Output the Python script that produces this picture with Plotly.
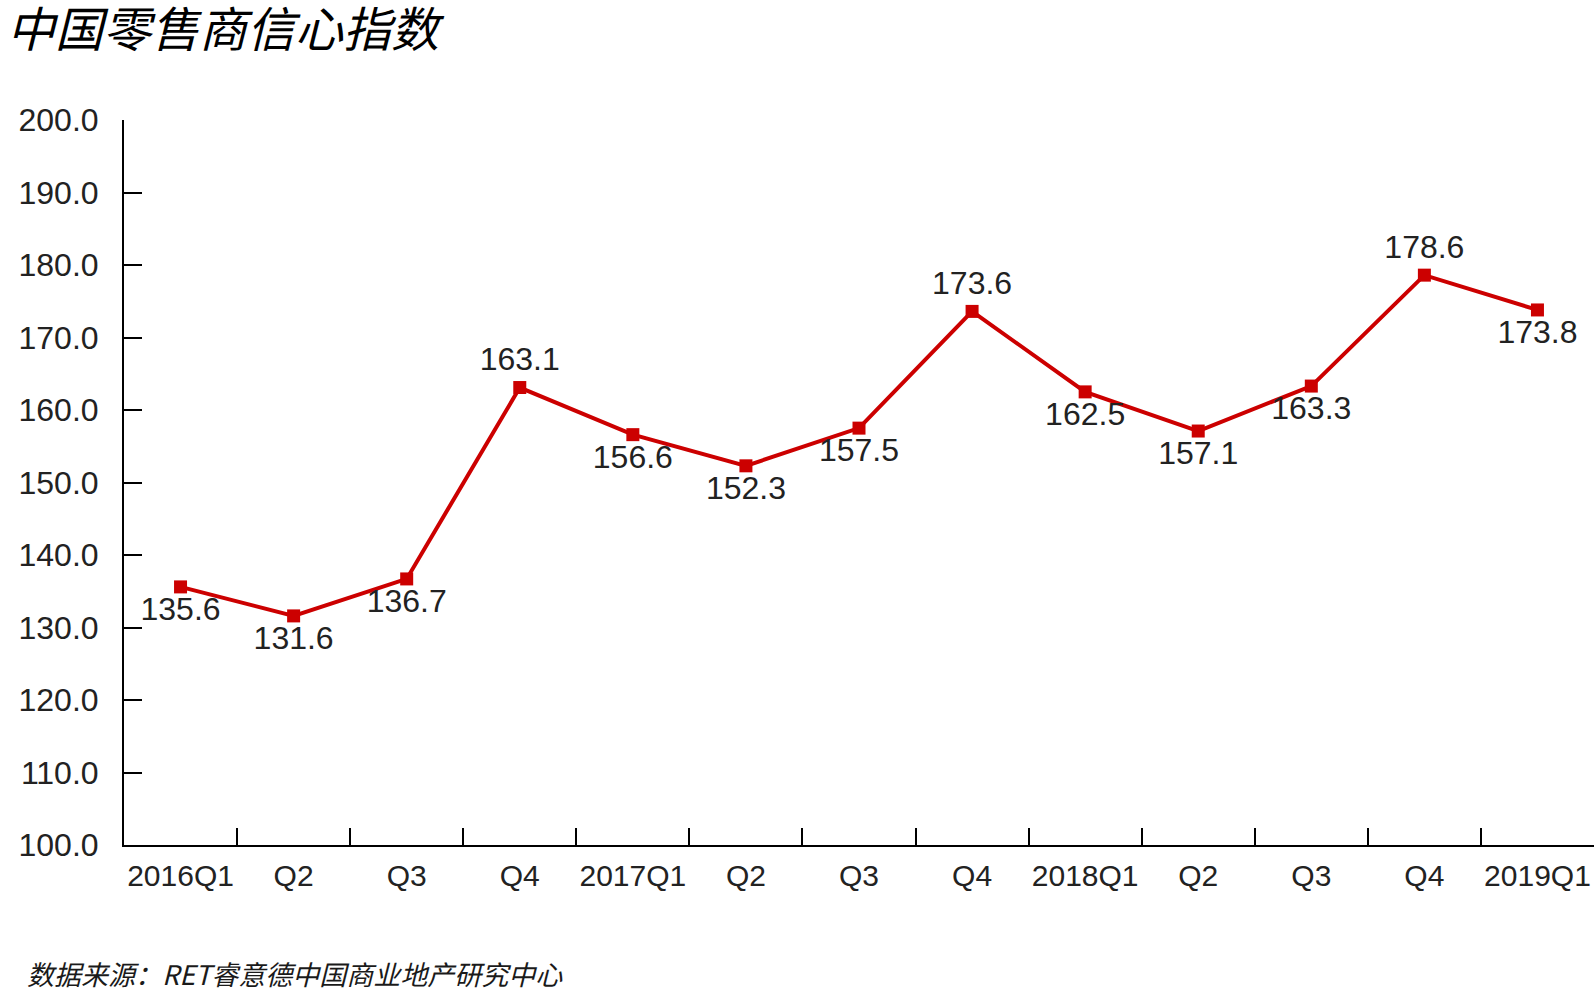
import plotly.graph_objects as go

ZW = "\u200b"
categories = ["2016Q1", "Q2", "Q3", "Q4", "2017Q1", "Q2" + ZW, "Q3" + ZW, "Q4" + ZW, "2018Q1",
              "Q2" + ZW * 2, "Q3" + ZW * 2, "Q4" + ZW * 2, "2019Q1"]
values = [135.6, 131.6, 136.7, 163.1, 156.6, 152.3, 157.5, 173.6, 162.5, 157.1, 163.3, 178.6, 173.8]
label_pos = ["bottom center", "bottom center", "bottom center", "top center", "bottom center",
             "bottom center", "bottom center", "top center", "bottom center", "bottom center",
             "bottom center", "top center", "bottom center"]
y_ticks = [100, 110, 120, 130, 140, 150, 160, 170, 180, 190, 200]

title_text = "中国零售商信心指数"
source_text = "数据来源：RET睿意德中国商业地产研究中心"

RED = "#CC0000"
FONT = "Liberation Sans, Arial, sans-serif"
CJK = "Noto Sans CJK SC"

fig = go.Figure()
fig.add_trace(go.Scatter(
    x=categories, y=values,
    mode="lines+markers+text",
    line=dict(color=RED, width=4),
    marker=dict(symbol="square", size=13, color=RED),
    text=[f"{v:.1f}" for v in values],
    textposition=label_pos,
    textfont=dict(family=FONT, size=32, color="#222222"),
    cliponaxis=False,
    hoverinfo="x+y",
))

fig.update_layout(
    width=1596, height=994,
    margin=dict(l=124, r=2, t=120, b=149),
    paper_bgcolor="white", plot_bgcolor="white",
    showlegend=False,
    xaxis=dict(
        type="category",
        range=[-0.5, len(categories) - 0.5],
        tickson="boundaries",
        ticks="inside", ticklen=17, tickwidth=2, tickcolor="black",
        showline=True, linecolor="black", linewidth=2,
        showgrid=False, zeroline=False,
        tickangle=0, automargin=False,
        tickfont=dict(family=FONT, size=30, color="#222222"),
        ticklabelstandoff=3,
    ),
    yaxis=dict(
        range=[100, 200],
        tickvals=y_ticks,
        tickformat=".1f",
        ticks="inside", ticklen=18, tickwidth=2, tickcolor="black",
        showline=True, linecolor="black", linewidth=2,
        showgrid=False, zeroline=False,
        automargin=False,
        tickfont=dict(family=FONT, size=32, color="#222222"),
        ticklabelstandoff=17,
    ),
    annotations=[
        dict(text=title_text, xref="paper", yref="paper", x=-118/1470, y=1 + (120 - 26)/725,
             xanchor="left", yanchor="middle", showarrow=False, borderpad=0,
             font=dict(family=CJK, size=48, color="black", style="italic")),
        dict(text=source_text, xref="paper", yref="paper", x=-98/1470, y=-(994 - 845) / 725,
             xanchor="left", yanchor="bottom", showarrow=False, borderpad=0,
             font=dict(family=CJK, size=27, color="#1a1a1a", style="italic")),
    ],
)

fig.write_html("out.html", config={"displayModeBar": False})
with open("out.html", "r", encoding="utf-8") as f:
    html = f.read()
html = html.replace("<body>", '<body style="margin:0;padding:0;overflow:hidden;">', 1)
with open("out.html", "w", encoding="utf-8") as f:
    f.write(html)
